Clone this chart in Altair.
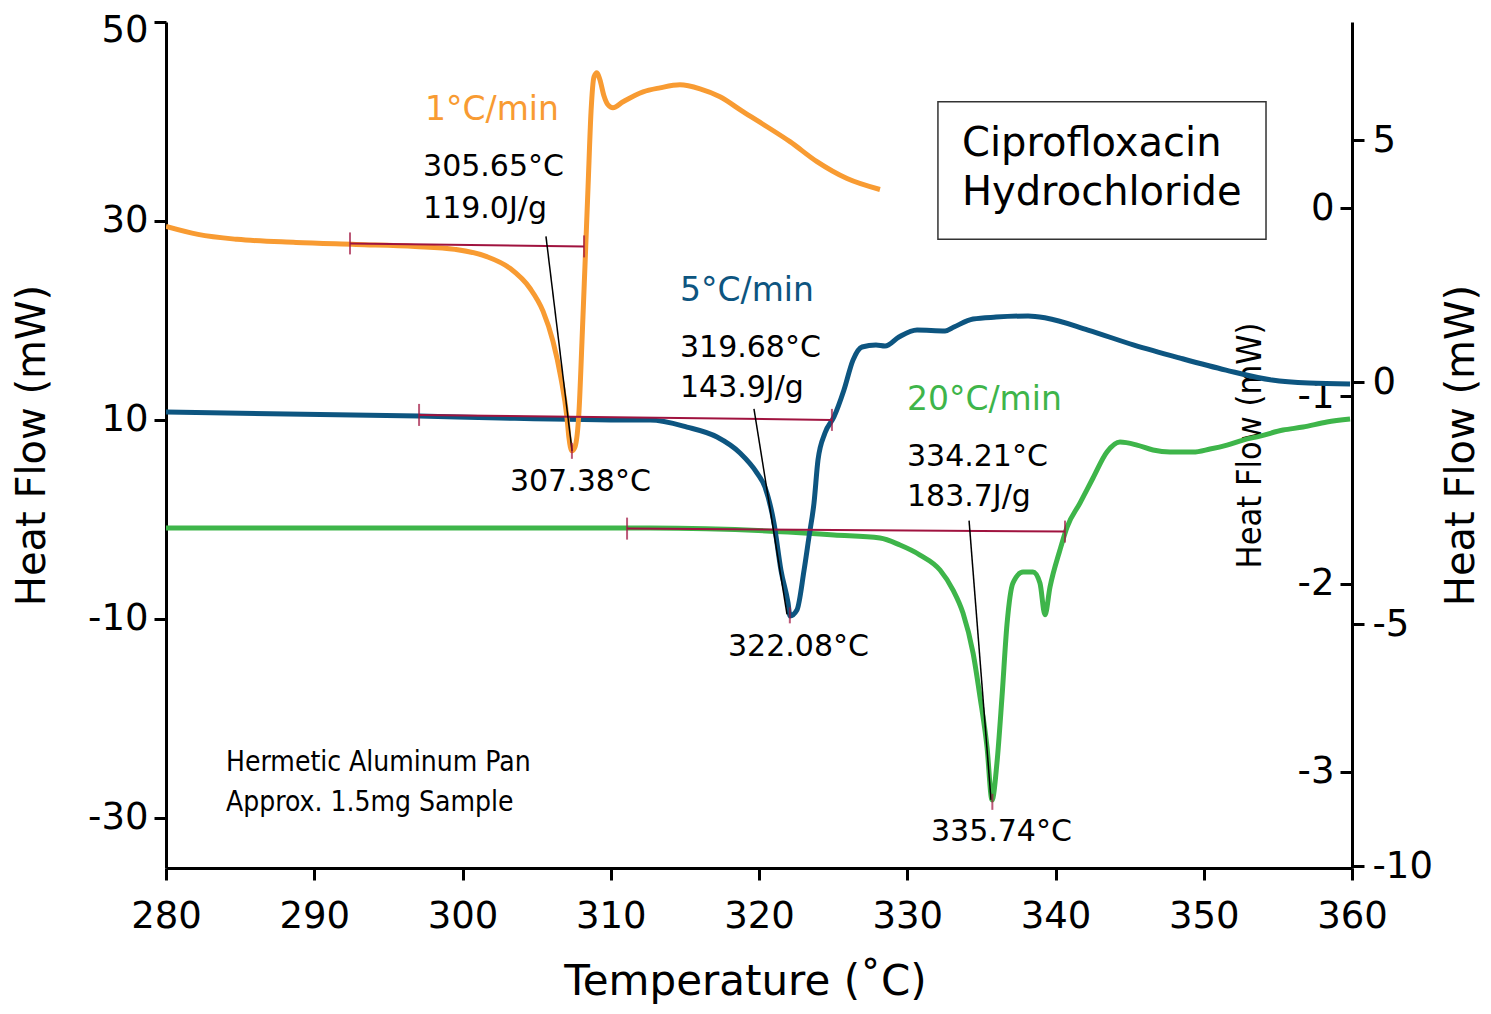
import altair as alt
import pandas as pd

# ---------------- data ----------------
# 1 °C/min curve (left axis, mW)
ORANGE_T = [280.00, 282.16, 284.79, 288.77, 292.82, 296.80, 299.49, 301.59, 303.20, 304.55,
            305.43, 306.10, 306.64, 307.05, 307.18, 307.38, 307.59, 307.86, 308.06, 308.26,
            308.47, 308.67, 308.87, 309.07, 309.27, 309.54, 309.81, 310.15, 310.83, 312.18,
            313.32, 314.67, 316.02, 317.37, 318.92, 320.54, 322.09, 323.91, 325.94, 328.16]
ORANGE_HF = [29.45, 28.65, 28.15, 27.84, 27.64, 27.44, 27.14, 26.44, 25.24, 23.23,
             20.93, 17.92, 14.21, 10.20, 8.20, 6.89, 7.30, 10.90, 17.92, 25.44,
             33.46, 40.98, 44.49, 44.89, 44.19, 42.58, 41.68, 41.38, 41.98, 42.98,
             43.38, 43.68, 43.28, 42.48, 40.98, 39.47, 37.97, 35.96, 34.26, 33.16]

# 5 °C/min curve (inner right axis, mW)
BLUE_T = [280.00, 297.07, 302.53, 311.50, 312.65, 315.14, 317.17, 318.72, 319.87, 320.40,
          321.01, 321.48, 321.96, 322.09, 322.56, 323.04, 323.37, 323.71, 323.98, 324.45,
          325.05, 325.73, 326.34, 326.95, 327.89, 328.50, 329.44, 330.66, 332.55, 333.15,
          334.44, 335.99, 338.15, 339.36, 342.19, 345.30, 348.40, 351.50, 354.60, 357.10, 359.87]
BLUE_HF = [-1.085, -1.106, -1.117, -1.128, -1.128, -1.165, -1.218, -1.303, -1.410, -1.484,
           -1.676, -1.926, -2.101, -2.170, -2.138, -1.926, -1.750, -1.569, -1.340, -1.197,
           -1.112, -0.968, -0.809, -0.739, -0.729, -0.734, -0.686, -0.649, -0.654, -0.633,
           -0.590, -0.580, -0.574, -0.585, -0.649, -0.729, -0.798, -0.862, -0.915, -0.931, -0.936]

# 20 °C/min curve (outer right axis, mW)
GREEN_T = [280.00, 312.65, 321.96, 325.06, 328.16, 329.51, 330.86, 332.21, 333.09, 333.76,
           334.44, 334.91, 335.38, 335.72, 336.05, 336.39, 336.73, 337.13, 337.81, 338.48,
           338.95, 339.29, 339.63, 340.30, 340.78, 341.65, 342.53, 343.47, 344.35, 345.50,
           346.58, 347.72, 349.28, 350.42, 351.57, 352.65, 353.80, 355.35, 356.70, 358.31, 359.87]
GREEN_HF = [-3.017, -3.017, -3.099, -3.161, -3.223, -3.368, -3.574, -3.884, -4.298, -4.773,
            -5.599, -6.508, -7.541, -8.636, -7.872, -6.508, -5.000, -4.153, -3.926, -3.926,
            -4.153, -4.810, -4.236, -3.471, -2.996, -2.500, -1.983, -1.446, -1.240, -1.302,
            -1.405, -1.446, -1.446, -1.384, -1.302, -1.198, -1.116, -0.992, -0.930, -0.826, -0.764]

X_DOMAIN = [280, 360]
X_TICKS = [280, 290, 300, 310, 320, 330, 340, 350, 360]
LEFT_DOMAIN = [-35.05, 50]
LEFT_TICKS = [50, 30, 10, -10, -30]
INNER_DOMAIN = [-3.511, 0.99]
INNER_TICKS = [0, -1, -2, -3]
OUTER_DOMAIN = [-10.041, 7.44]
OUTER_TICKS = [5, 0, -5, -10]

# integration baselines (left-axis units)
BASE_T1 = [292.41, 297.07, 311.10]
BASE_HF1 = [27.74, 10.50, -0.93]
BASE_T2 = [308.20, 324.92, 340.64]
BASE_HF2 = [27.44, 10.00, -1.23]
# onset tangents
TAN_T1 = [305.63, 319.66, 334.17]
TAN_HF1 = [28.45, 11.10, -0.13]
TAN_T2 = [307.39, 321.89, 335.65]
TAN_HF2 = [6.89, -9.55, -28.20]
# baseline end markers and peak markers
END_T = [292.41, 308.20, 297.07, 324.92, 311.10, 340.64]
END_HF = [27.74, 27.44, 10.50, 10.00, -0.93, -1.23]
PEAK_T = [307.38, 322.08, 335.74]
PEAK_HF = [6.89, -9.65, -28.40]

# annotation texts
VAL_TEXT = ["305.65°C", "119.0J/g", "307.38°C", "319.68°C", "143.9J/g", "322.08°C",
            "334.21°C", "183.7J/g", "335.74°C"]
VAL_T = [297.34, 297.34, 303.20, 314.67, 314.67, 317.91, 329.98, 329.98, 331.60]
VAL_HF = [35.46, 31.25, 3.78, 17.22, 13.21, -12.86, 6.29, 2.28, -31.40]

RATE_TEXT = ["1°C/min", "5°C/min", "20°C/min"]
RATE_T = [297.47, 314.67, 329.98]
RATE_HF = [41.18, 22.93, 12.00]

BOX_TEXT = ["Ciprofloxacin", "Hydrochloride"]
BOX_TEXT_T = [333.69, 333.69]
BOX_TEXT_HF = [37.77, 32.76]
BOX_T = [332.07, 354.20]
BOX_HF = [41.98, 28.15]

NOTE_TEXT = ["Hermetic Aluminum Pan", "Approx. 1.5mg Sample"]
NOTE_T = [284.05, 284.05]
NOTE_HF = [-24.49, -28.50]

# ---------------- styles ----------------
ORANGE = "#F89B32"
BLUE = "#0D5580"
GREEN = "#3EB54A"
MAROON = "#A0133F"
FONT = "DejaVu Sans"
COND = "Liberation Sans Narrow, DejaVu Sans Condensed, Roboto Condensed, Liberation Sans, sans-serif"
HYPHEN = "'' + datum.value"

xs = alt.Scale(domain=X_DOMAIN, nice=False, zero=False)


def ls():
    return alt.Scale(domain=LEFT_DOMAIN, nice=False, zero=False)


ins = alt.Scale(domain=INNER_DOMAIN, nice=False, zero=False)
outs = alt.Scale(domain=OUTER_DOMAIN, nice=False, zero=False)

common_axis = dict(grid=False, domainColor="black", domainWidth=3, tickColor="black",
                   tickWidth=3, tickSize=12, labelColor="black", labelFont=FONT,
                   labelFontSize=37, titleColor="black", titleFontWeight="normal",
                   labelExpr=HYPHEN, labelFlush=False)

x_axis = alt.Axis(values=X_TICKS, title="Temperature (˚C)", titleFont=FONT,
                  titleFontSize=42, labelPadding=18, titlePadding=27, titleX=579,
                  titleAlign="center", **common_axis)
left_axis = alt.Axis(orient="left", values=LEFT_TICKS, title="Heat Flow (mW)",
                     titleFont=FONT, titleFontSize=40, labelPadding=6, titlePadding=35,
                     labelOffset={"condition": {"test": "datum.value == 50", "value": 8},
                                  "value": 0},
                     **common_axis)
inner_axis = alt.Axis(orient="left", offset=-1186, values=INNER_TICKS,
                      title="Heat Flow (mW)", titleFont=COND, titleFontSize=34,
                      labelPadding=6, titlePadding=30, domain=False, **common_axis)
outer_axis = alt.Axis(orient="right", values=OUTER_TICKS, title="Heat Flow (mW)",
                      titleFont=FONT, titleFontSize=40, labelPadding=8, titlePadding=9,
                      titleAngle=270, titleBaseline="top", **common_axis)


def X(field):
    return alt.X(field, type="quantitative", scale=xs, axis=x_axis)


def curve(t, hf, color, yscale, yaxis):
    df = pd.DataFrame({"t": t, "hf": hf})
    return alt.Chart(df).mark_line(color=color, strokeWidth=5, interpolate="monotone",
                                   clip=True).encode(
        x=X("t"),
        y=alt.Y("hf:Q", scale=yscale, axis=yaxis),
        order=alt.Order("t:Q"),
    )


green = curve(GREEN_T, GREEN_HF, GREEN, outs, outer_axis)
blue = curve(BLUE_T, BLUE_HF, BLUE, ins, inner_axis)
orange = curve(ORANGE_T, ORANGE_HF, ORANGE, ls(), left_axis)


def segs(t1, v1, t2, v2, color, width):
    df = pd.DataFrame({"t": t1, "v1": v1, "t2": t2, "v2": v2})
    return alt.Chart(df).mark_rule(color=color, strokeWidth=width).encode(
        x=X("t"),
        y=alt.Y("v1:Q", scale=ls(), axis=None),
        x2="t2:Q", y2="v2:Q",
    )


def ticks(t, v, size):
    df = pd.DataFrame({"t": t, "hf": v})
    return alt.Chart(df).mark_tick(color=MAROON, orient="vertical", size=size,
                                   thickness=2).encode(
        x=X("t"),
        y=alt.Y("hf:Q", scale=ls(), axis=None),
    )


def texts(labels, t, v, size, color="black", font=FONT):
    df = pd.DataFrame({"label": labels, "t": t, "hf": v})
    return alt.Chart(df).mark_text(align="left", baseline="middle", fontSize=size,
                                   color=color, font=font).encode(
        x=X("t"),
        y=alt.Y("hf:Q", scale=ls(), axis=None),
        text="label:N",
    )


box = alt.Chart(pd.DataFrame({"t": [BOX_T[0]], "t2": [BOX_T[1]],
                              "v1": [BOX_HF[0]], "v2": [BOX_HF[1]]})).mark_rect(
    fill="white", stroke="#333333", strokeWidth=1.5).encode(
    x=X("t"), x2="t2:Q",
    y=alt.Y("v1:Q", scale=ls(), axis=None), y2="v2:Q",
)

layers = [
    green,
    blue,
    orange,
    segs(BASE_T1, BASE_HF1, BASE_T2, BASE_HF2, MAROON, 2),
    segs(TAN_T1, TAN_HF1, TAN_T2, TAN_HF2, "black", 1.5),
    ticks(END_T, END_HF, 22),
    ticks(PEAK_T, PEAK_HF, 16),
    texts(VAL_TEXT, VAL_T, VAL_HF, 30),
    texts([RATE_TEXT[0]], [RATE_T[0]], [RATE_HF[0]], 33, ORANGE),
    texts([RATE_TEXT[1]], [RATE_T[1]], [RATE_HF[1]], 33, BLUE),
    texts([RATE_TEXT[2]], [RATE_T[2]], [RATE_HF[2]], 33, GREEN),
    box,
    texts(BOX_TEXT, BOX_TEXT_T, BOX_TEXT_HF, 40),
    texts(NOTE_TEXT, NOTE_T, NOTE_HF, 28, font=COND),
]

chart = alt.layer(*layers).resolve_scale(y="independent").properties(
    width=1186, height=846,
    autosize=alt.AutoSizeParams(type="none"),
    padding={"left": 158, "top": 14, "right": 131, "bottom": 138},
).configure_view(stroke=None)

chart.save("out.html", embed_options={"renderer": "svg", "actions": False})
